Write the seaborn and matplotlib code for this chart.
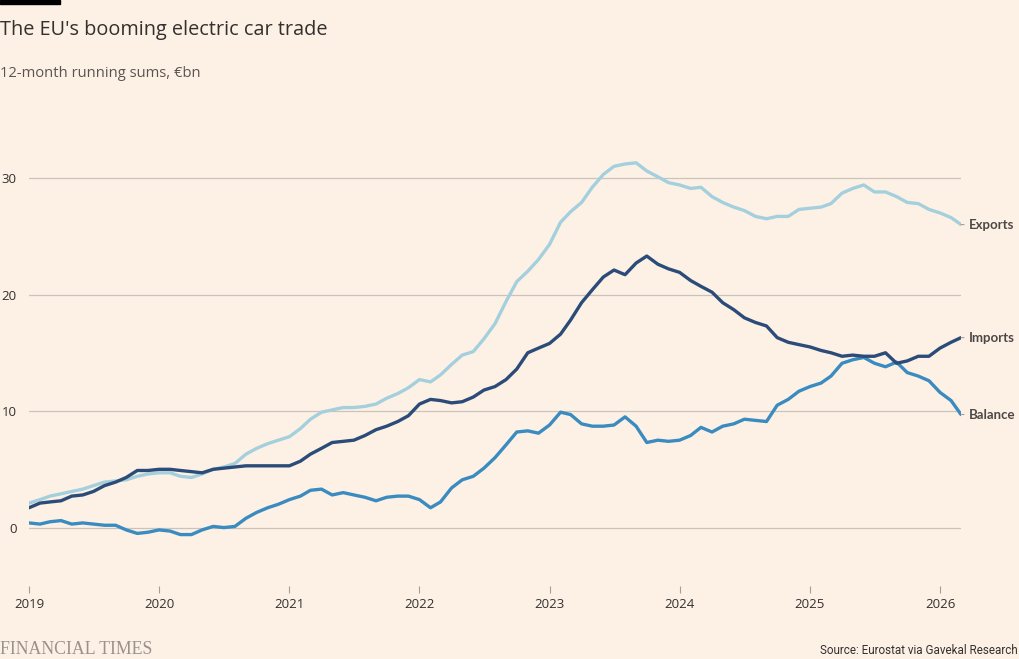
import pandas as pd
import matplotlib
matplotlib.use("Agg")
import matplotlib.pyplot as plt
import matplotlib.dates as mdates
import seaborn as sns


# Data: 12-month running sums, EUR bn, Jan 2019 - Mar 2026

months = pd.date_range("2019-01-01", periods=87, freq="MS")

exports = [
    2.1, 2.4, 2.7, 2.9, 3.1, 3.3, 3.6, 3.9, 4.0, 4.1, 4.4, 4.6,
    4.7, 4.7, 4.4, 4.3, 4.6, 5.0, 5.2, 5.5, 6.3, 6.8, 7.2, 7.5,
    7.8, 8.5, 9.3, 9.9, 10.1, 10.3, 10.3, 10.4, 10.6, 11.1, 11.5, 12.0,
    12.7, 12.5, 13.1, 14.0, 14.8, 15.1, 16.2, 17.5, 19.4, 21.1, 22.0, 23.0,
    24.3, 26.2, 27.1, 27.9, 29.2, 30.3, 31.0, 31.2, 31.3, 30.6, 30.1, 29.6,
    29.4, 29.1, 29.2, 28.4, 27.9, 27.5, 27.2, 26.7, 26.5, 26.7, 26.7, 27.3,
    27.4, 27.5, 27.8, 28.7, 29.1, 29.4, 28.8, 28.8, 28.4, 27.9, 27.8, 27.3,
    27.0, 26.6, 26.0,
]

imports = [
    1.7, 2.1, 2.2, 2.3, 2.7, 2.8, 3.1, 3.6, 3.9, 4.3, 4.9, 4.9,
    5.0, 5.0, 4.9, 4.8, 4.7, 5.0, 5.1, 5.2, 5.3, 5.3, 5.3, 5.3,
    5.3, 5.7, 6.3, 6.8, 7.3, 7.4, 7.5, 7.9, 8.4, 8.7, 9.1, 9.6,
    10.6, 11.0, 10.9, 10.7, 10.8, 11.2, 11.8, 12.1, 12.7, 13.6, 15.0, 15.4,
    15.8, 16.6, 17.8, 19.3, 20.4, 21.5, 22.1, 21.7, 22.7, 23.3, 22.6, 22.2,
    21.9, 21.2, 20.7, 20.2, 19.3, 18.7, 18.0, 17.6, 17.3, 16.3, 15.9, 15.7,
    15.5, 15.2, 15.0, 14.7, 14.8, 14.7, 14.7, 15.0, 14.1, 14.3, 14.7, 14.7,
    15.4, 15.9, 16.3,
]

balance = [
    0.4, 0.3, 0.5, 0.6, 0.3, 0.4, 0.3, 0.2, 0.2, -0.2, -0.5, -0.4,
    -0.2, -0.3, -0.6, -0.6, -0.2, 0.1, 0.0, 0.1, 0.8, 1.3, 1.7, 2.0,
    2.4, 2.7, 3.2, 3.3, 2.8, 3.0, 2.8, 2.6, 2.3, 2.6, 2.7, 2.7,
    2.4, 1.7, 2.2, 3.4, 4.1, 4.4, 5.1, 6.0, 7.1, 8.2, 8.3, 8.1,
    8.8, 9.9, 9.7, 8.9, 8.7, 8.7, 8.8, 9.5, 8.7, 7.3, 7.5, 7.4,
    7.5, 7.9, 8.6, 8.2, 8.7, 8.9, 9.3, 9.2, 9.1, 10.5, 11.0, 11.7,
    12.1, 12.4, 13.0, 14.1, 14.4, 14.6, 14.1, 13.8, 14.2, 13.3, 13.0, 12.6,
    11.6, 10.9, 9.7,
]

series_names = ["Exports", "Balance", "Imports"]
colours = {"Exports": "#a4d0dd", "Balance": "#3a8bc0", "Imports": "#2b4c78"}

df = pd.concat([
    pd.DataFrame({"date": months, "value": exports, "series": "Exports"}),
    pd.DataFrame({"date": months, "value": balance, "series": "Balance"}),
    pd.DataFrame({"date": months, "value": imports, "series": "Imports"}),
])

# Style

bg = "#fdf1e6"
text_col = "#33302e"
sns.set_style("white")
plt.rcParams["font.family"] = ["Open Sans", "DejaVu Sans"]
plt.rcParams["lines.solid_joinstyle"] = "round"
plt.rcParams["lines.solid_capstyle"] = "round"

fig = plt.figure(figsize=(10.2, 6.59), dpi=100, facecolor=bg)
ax = fig.add_axes([0.0284, 0.111, 0.9138, 0.672])
ax.set_facecolor(bg)

sns.lineplot(data=df, x="date", y="value", hue="series", hue_order=series_names,
             palette=colours, linewidth=2.4, legend=False, ax=ax)

ax.set_xlim(months[0], months[-1])
ax.set_ylim(-5, 33)
ax.set_yticks([0, 10, 20, 30])
ax.grid(axis="y", color="#cbc2b9", linewidth=0.9)
ax.set_axisbelow(True)
for side in ["top", "right", "left", "bottom"]:
    ax.spines[side].set_visible(False)

ax.xaxis.set_major_locator(mdates.YearLocator())
ax.xaxis.set_major_formatter(mdates.DateFormatter("%Y"))
ax.tick_params(axis="x", length=5, width=0.8, color="#a79d94", pad=4,
               labelsize=9.5, labelcolor=text_col, bottom=True)
ax.tick_params(axis="y", length=0, pad=9, labelsize=9.5, labelcolor=text_col)
ax.set_xlabel("")
ax.set_ylabel("")

# Line end labels

ends = {"Exports": exports[-1], "Imports": imports[-1], "Balance": balance[-1]}
for name, val in ends.items():
    ax.annotate(name, xy=(months[-1], val), xytext=(5.5, 0), textcoords="offset points",
                va="center", ha="left", fontsize=9.5, fontweight="bold",
                family=["Lato", "DejaVu Sans"], color="#4d4845",
                annotation_clip=False,
                arrowprops=dict(arrowstyle="-", color="#a79d94", lw=0.8,
                                shrinkA=1, shrinkB=0))

# Titles and footer

fig.patches.append(plt.Rectangle((0, 0.994), 0.059, 0.006, transform=fig.transFigure,
                                 color="black", zorder=5))
fig.text(0.0, 0.955, "The EU's booming electric car trade", fontsize=14.3,
         color=text_col, va="center", ha="left")
fig.text(0.0, 0.888, "12-month running sums, \u20acbn", fontsize=10.6,
         color="#5a5450", va="center", ha="left")
fig.text(0.0, 0.002, "FINANCIAL TIMES", fontsize=12.8, family="Liberation Serif",
         color="#9a918a", va="bottom", ha="left")
fig.text(0.998, 0.003, "Source: Eurostat via Gavekal Research", fontsize=8.4,
         family="Roboto", color=text_col, va="bottom", ha="right")

fig.savefig("out.png", dpi=100, facecolor=bg)
